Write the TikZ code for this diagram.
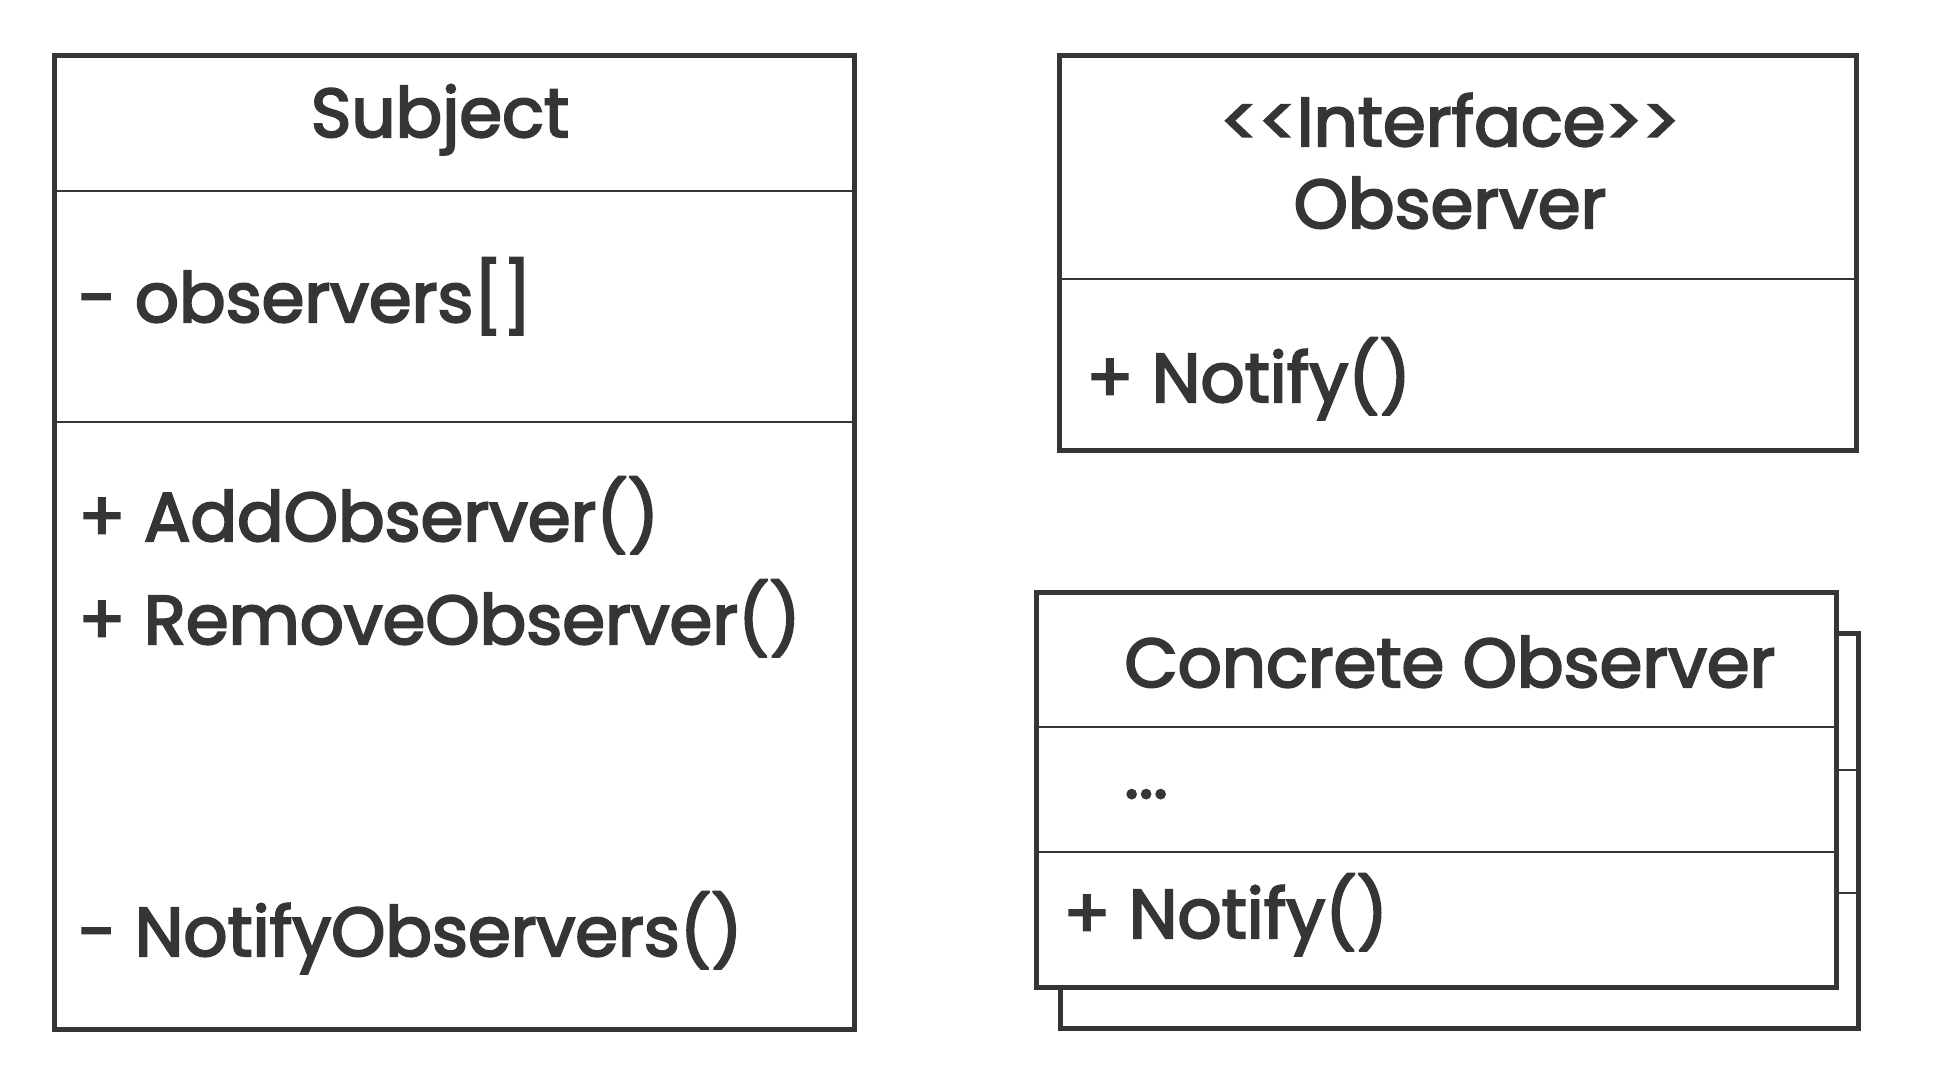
\documentclass[tikz,border=0pt]{standalone}
\usepackage{fontspec}
\setmainfont{Poppins}[FakeBold=3]
\definecolor{ink}{HTML}{353535}
\begin{document}
\begin{tikzpicture}[x=0.5pt,y=-0.5pt,
  outer/.style={draw=ink,line width=2.5pt,fill=white},
  divider/.style={draw=ink,line width=1pt},
  title/.style={text=ink,font=\fontsize{34.5}{42}\selectfont,anchor=base,inner sep=0pt},
  member/.style={text=ink,font=\fontsize{34.5}{42}\selectfont,anchor=base west,inner sep=0pt}]
\useasboundingbox[fill=white] (0,0) rectangle (1960,1070);
% Subject
\draw[outer] (54,56) rectangle (854,1029);
\draw[divider] (54,191) -- (854,191);
\draw[divider] (54,422) -- (854,422);
\node[title] (subj) at (440,137) {Subject};
\node[member] (obsarr) at (78,322) {- observers[]};
\node[member] (add) at (78,541) {+ AddObserver()};
\node[member] (rem) at (78,644) {+ RemoveObserver()};
\node[member] (notobs) at (78,956) {- NotifyObservers()};
% Observer interface
\draw[outer] (1059,56) rectangle (1856,450);
\draw[divider] (1059,279) -- (1856,279);
\node[title] (iface) at (1450,146) {<{}<Interface>{}>};
\node[title] (obs) at (1450,228) {Observer};
\node[member] (notify1) at (1086,402) {+ Notify()};
% Concrete observer (back)
\draw[outer] (1060,633) rectangle (1858,1028);
\draw[divider] (1060,770) -- (1858,770);
\draw[divider] (1060,893) -- (1858,893);
% Concrete observer (front)
\draw[outer] (1036,592) rectangle (1836,987);
\draw[divider] (1036,727) -- (1836,727);
\draw[divider] (1036,852) -- (1836,852);
\node[member] (cotitle) at (1124,687) {Concrete Observer};
\node[member] (dots) at (1124,798) {...};
\node[member] (notify2) at (1063,938) {+ Notify()};
\end{tikzpicture}
\end{document}
